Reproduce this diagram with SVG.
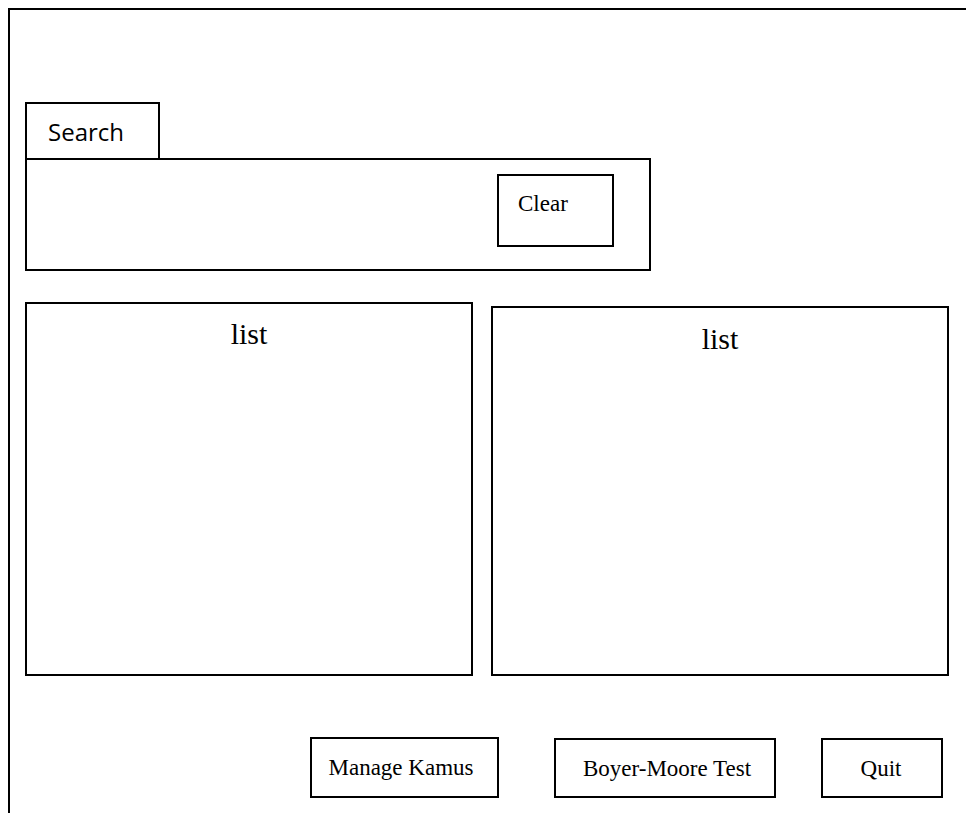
<svg xmlns="http://www.w3.org/2000/svg" width="966" height="813" viewBox="0 0 966 813">
  <style>
    .box { fill: #ffffff; stroke: #000000; stroke-width: 2; }
    .frame { fill: none; stroke: #000000; stroke-width: 2; }
    .serif { font-family: "Liberation Serif", "Times New Roman", serif; fill: #000000; }
    .sans { font-family: "Open Sans", "Noto Sans", "Liberation Sans", sans-serif; fill: #000000; }
    .btn { font-size: 23px; text-anchor: middle; }
  </style>
  <rect width="966" height="813" fill="#ffffff"/>

  <!-- window frame (top and left edges) -->
  <g id="window-frame">
    <path class="frame" d="M9,813 V9 H966"/>
  </g>

  <!-- search panel with tab -->
  <g id="search-panel">
    <rect class="box" x="26" y="159" width="624" height="111"/>
  </g>
  <g id="search-tab">
    <rect class="box" x="26" y="103" width="133" height="56"/>
    <text class="sans" x="48" y="141" font-size="24">Search</text>
  </g>
  <g id="clear-button">
    <rect class="box" x="498" y="175" width="115" height="71"/>
    <text class="serif" x="518" y="211" font-size="23">Clear</text>
  </g>

  <!-- result lists -->
  <g id="list-left">
    <rect class="box" x="26" y="303" width="446" height="372"/>
    <text class="serif" x="249" y="344" font-size="30" text-anchor="middle">list</text>
  </g>
  <g id="list-right">
    <rect class="box" x="492" y="307" width="456" height="368"/>
    <text class="serif" x="720" y="349" font-size="30" text-anchor="middle">list</text>
  </g>

  <!-- action buttons -->
  <g id="manage-kamus-button">
    <rect class="box" x="311" y="738" width="187" height="59"/>
    <text class="serif btn" x="401" y="775">Manage Kamus</text>
  </g>
  <g id="boyer-moore-button">
    <rect class="box" x="555" y="739" width="220" height="58"/>
    <text class="serif btn" x="667" y="776">Boyer-Moore Test</text>
  </g>
  <g id="quit-button">
    <rect class="box" x="822" y="739" width="120" height="58"/>
    <text class="serif btn" x="881" y="776">Quit</text>
  </g>

  <g id="connectors"></g>
</svg>
